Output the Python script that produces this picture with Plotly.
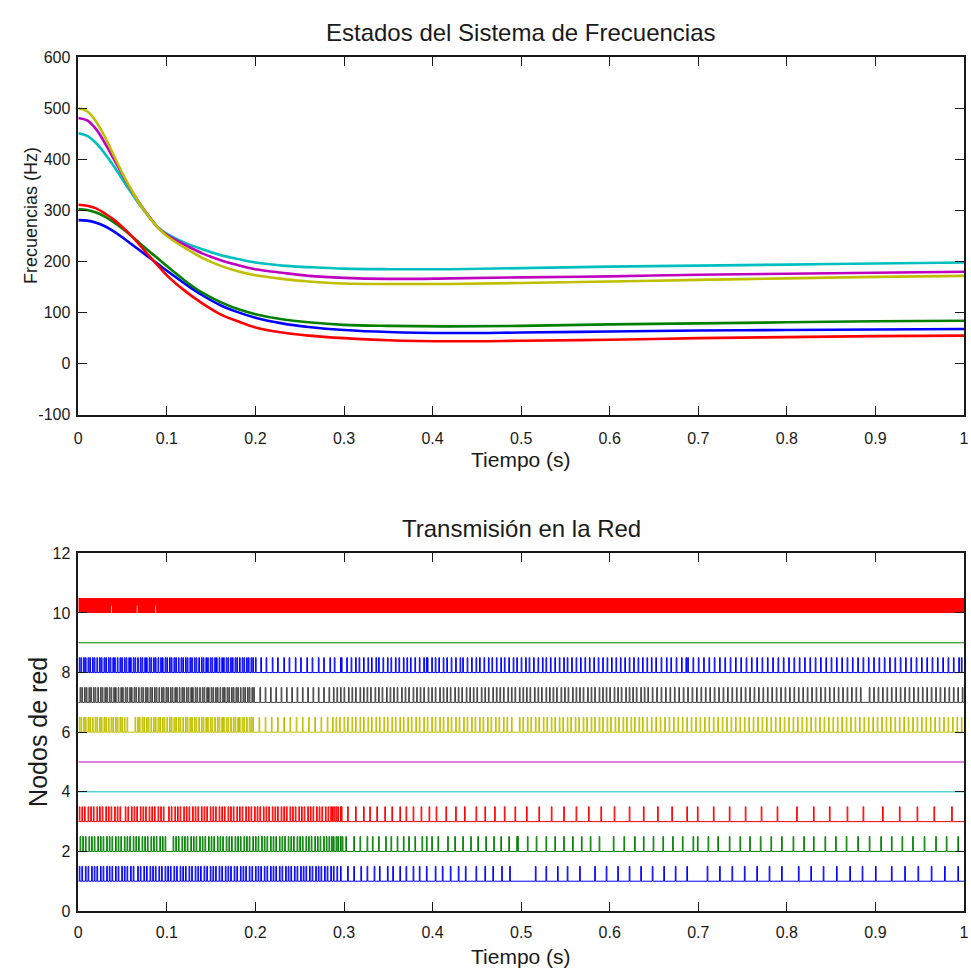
import plotly.graph_objects as go

W, H = 971, 979

# ---------------- Frequency states (top panel) ----------------
t_freq = [0, 0.01, 0.02, 0.03, 0.04, 0.05, 0.06, 0.07, 0.08, 0.09, 0.10, 0.12, 0.14,
          0.16, 0.18, 0.20, 0.23, 0.26, 0.30, 0.35, 0.42, 0.50, 0.60, 0.70, 0.80, 0.90, 1.00]
f_blue    = [281, 280, 276, 269, 259, 247, 234, 221, 208, 195, 182, 157, 134,
             115, 101, 90, 79, 72, 66, 62, 60, 61, 63, 65, 66, 67, 68]
f_green   = [302, 301, 296, 288, 277, 264, 250, 235, 220, 206, 191, 163, 139,
             121, 107, 97, 87, 81, 76, 74, 73, 74, 77, 79, 81, 83, 84]
f_red     = [311, 309, 304, 294, 282, 267, 250, 231, 211, 192, 173, 143, 118,
             97, 83, 71, 61, 55, 50, 46, 44, 45, 47, 50, 52, 54, 55]
f_cyan    = [451, 446, 432, 411, 387, 360, 334, 309, 287, 267, 254, 237, 224,
             213, 205, 198, 192, 189, 186, 185, 185, 187, 190, 192, 194, 196, 198]
f_magenta = [481, 476, 459, 432, 401, 369, 339, 312, 288, 266, 252, 233, 216,
             203, 193, 185, 178, 172, 168, 166, 167, 169, 171, 174, 176, 178, 180]
f_yellow  = [500, 494, 474, 444, 408, 372, 340, 311, 287, 266, 250, 227, 207,
             192, 181, 173, 166, 161, 157, 156, 156, 158, 161, 164, 167, 170, 172]

freq_series = [f_blue, f_green, f_red, f_cyan, f_magenta, f_yellow]
freq_colors = ["#0000FF", "#008000", "#FF0000", "#00BFBF", "#BF00BF", "#BFBF00"]

x_ticks = [0, 0.1, 0.2, 0.3, 0.4, 0.5, 0.6, 0.7, 0.8, 0.9, 1]
x_ticktext = ["0", "0.1", "0.2", "0.3", "0.4", "0.5", "0.6", "0.7", "0.8", "0.9", "1"]
y_top_ticks = [-100, 0, 100, 200, 300, 400, 500, 600]
y_top_ticktext = ["-100", "0", "100", "200", "300", "400", "500", "600"]
y_bot_ticks = [0, 2, 4, 6, 8, 10, 12]

# ---------------- Network transmissions (bottom panel) ----------------
# transmission instants in milliseconds for each node
tx_node1 = [1, 4, 8, 11, 15, 18, 21, 25, 28, 32, 35, 38, 42, 45, 49, 52, 55, 59, 62,
            67, 70, 74, 77, 81, 84, 87, 91, 94, 98, 101, 104, 108, 111, 115, 118, 121,
            125, 128, 132, 135, 138, 142, 145, 149, 152, 155, 159, 162, 166, 169, 172,
            176, 179, 183, 186, 189, 193, 196, 200, 203, 206, 210, 213, 217, 220, 223,
            227, 230, 234, 237, 240, 244, 247, 251, 254, 257, 261, 264, 268, 271, 274,
            278, 281, 285, 288, 292, 296, 304, 311, 319, 326, 334, 340, 349, 355, 363,
            370, 378, 385, 393, 403, 411, 420, 429, 437, 449, 459, 468, 478, 487, 516,
            528, 541, 552, 566, 583, 596, 609, 622, 635, 648, 661, 674, 687, 710, 724,
            738, 752, 766, 780, 794, 813, 827, 841, 856, 871, 885, 900, 918, 933, 948,
            963, 978, 993]
tx_node2 = [2, 5, 8, 12, 15, 18, 22, 25, 28, 32, 35, 38, 42, 45, 48, 52, 55, 58, 62, 65,
            68, 72, 75, 78, 82, 85, 88, 92, 95, 98, 107, 110, 113, 117, 120, 123, 127,
            130, 133, 137, 140, 143, 147, 150, 153, 157, 160, 163, 167, 170, 173, 177,
            180, 183, 187, 190, 193, 197, 200, 203, 207, 210, 213, 217, 220, 223, 227,
            230, 233, 237, 240, 243, 247, 250, 253, 257, 260, 263, 267, 270, 273, 277,
            280, 283, 286, 288, 291, 293, 296, 298, 302, 311, 318, 326, 332, 339, 347,
            353, 360, 367, 373, 380, 388, 393, 399, 406, 417, 425, 434, 443, 451, 460,
            469, 477, 486, 495, 496, 507, 517, 528, 538, 548, 558, 568, 578, 588, 604,
            616, 628, 638, 649, 660, 671, 682, 694, 699, 711, 722, 735, 747, 758, 770,
            782, 794, 807, 819, 830, 843, 855, 867, 880, 893, 906, 918, 930, 942, 955,
            968, 980, 993]
tx_node3 = [1, 4, 7, 11, 14, 17, 21, 24, 27, 31, 34, 37, 41, 44, 47, 53, 56, 60, 63, 66,
            70, 73, 76, 80, 83, 86, 90, 93, 96, 102, 105, 109, 112, 115, 119, 122, 125,
            129, 132, 135, 139, 142, 145, 149, 152, 155, 159, 162, 165, 169, 172, 175,
            179, 182, 185, 189, 192, 195, 199, 202, 205, 209, 212, 215, 219, 222, 225,
            229, 232, 235, 239, 242, 245, 249, 252, 255, 259, 262, 265, 269, 272, 275,
            279, 282, 285, 287, 289, 291, 293, 296, 297, 304, 313, 322, 329, 337, 346,
            354, 363, 370, 378, 387, 396, 404, 415, 426, 436, 449, 459, 470, 481, 493,
            506, 520, 534, 548, 562, 576, 590, 605, 622, 638, 654, 670, 687, 699, 717,
            735, 753, 771, 789, 811, 830, 848, 868, 886, 908, 927, 947, 966, 986]
tx_node4 = []
tx_node5 = []
tx_node6 = [1, 3, 6, 8, 11, 13, 16, 19, 21, 24, 26, 29, 31, 34, 37, 39, 42, 44, 47, 49,
            52, 55, 64, 67, 69, 72, 74, 77, 79, 82, 85, 87, 90, 92, 95, 97, 100, 103, 105,
            108, 110, 113, 115, 118, 121, 123, 126, 128, 131, 133, 136, 139, 141, 144,
            146, 149, 151, 154, 157, 159, 162, 164, 167, 169, 172, 175, 177, 180, 182,
            185, 187, 190, 193, 195, 197, 204, 211, 218, 225, 232, 239, 246, 253, 260,
            267, 274, 281, 287, 291, 295, 300, 304, 309, 313, 318, 322, 327, 331, 336,
            340, 345, 349, 354, 358, 363, 367, 372, 376, 381, 385, 390, 394, 399, 403,
            408, 412, 417, 421, 426, 430, 435, 439, 444, 448, 453, 457, 462, 466, 471,
            475, 480, 484, 489, 498, 502, 507, 511, 516, 520, 525, 529, 534, 538, 543,
            547, 552, 556, 561, 565, 570, 574, 579, 583, 588, 592, 597, 601, 606, 610,
            615, 619, 624, 628, 633, 637, 642, 647, 652, 657, 662, 667, 672, 677, 682,
            687, 692, 697, 702, 707, 712, 717, 722, 727, 732, 737, 742, 747, 752, 757,
            762, 767, 772, 777, 782, 787, 792, 797, 802, 807, 812, 817, 822, 827, 832,
            837, 842, 847, 852, 857, 862, 867, 872, 877, 882, 887, 892, 897, 902, 907,
            912, 917, 922, 927, 932, 937, 942, 947, 952, 957, 962, 967, 972, 977, 982,
            987, 992, 997]
tx_node7 = [2, 4, 7, 9, 12, 14, 17, 19, 22, 25, 27, 30, 32, 35, 37, 40, 42, 45, 48, 50,
            53, 55, 58, 60, 63, 65, 68, 71, 73, 76, 78, 81, 83, 86, 88, 91, 94, 96, 99,
            101, 104, 106, 109, 111, 114, 117, 119, 122, 124, 127, 129, 132, 134, 137,
            140, 142, 145, 147, 150, 152, 155, 157, 160, 163, 165, 168, 170, 173, 175,
            178, 180, 183, 186, 188, 191, 193, 196, 198, 205, 211, 217, 223, 229, 235,
            241, 247, 253, 259, 265, 271, 277, 283, 288, 292, 296, 300, 305, 309, 313,
            318, 322, 326, 330, 335, 339, 343, 348, 352, 356, 360, 365, 369, 373, 378,
            382, 386, 390, 395, 399, 403, 408, 412, 416, 420, 425, 429, 433, 438, 442,
            446, 450, 455, 459, 463, 468, 472, 476, 480, 485, 489, 493, 498, 502, 506,
            510, 515, 519, 523, 528, 532, 536, 540, 545, 549, 553, 558, 562, 566, 570,
            575, 579, 583, 588, 592, 596, 600, 605, 609, 613, 618, 622, 626, 630, 635,
            639, 643, 648, 653, 658, 663, 668, 673, 678, 683, 688, 693, 698, 703, 708,
            713, 718, 723, 728, 733, 738, 743, 748, 753, 758, 763, 768, 773, 778, 783,
            788, 793, 798, 803, 808, 813, 818, 823, 828, 833, 838, 843, 848, 853, 858,
            863, 868, 873, 878, 883, 893, 898, 903, 908, 913, 918, 923, 928, 933, 938,
            943, 948, 953, 958, 963, 968, 973, 978, 983, 988, 993, 998]
tx_node8 = [1, 3, 6, 8, 11, 13, 16, 18, 21, 24, 26, 29, 31, 34, 36, 39, 41, 44, 47, 49,
            52, 54, 57, 59, 62, 64, 67, 70, 72, 75, 77, 80, 82, 85, 87, 90, 93, 95, 98,
            100, 103, 105, 108, 110, 113, 116, 118, 121, 123, 126, 128, 131, 133, 136,
            139, 141, 144, 146, 149, 151, 154, 156, 159, 162, 164, 167, 169, 172, 174,
            177, 179, 182, 185, 187, 190, 192, 195, 197, 200, 206, 212, 219, 225, 232,
            238, 245, 251, 258, 264, 271, 277, 284, 289, 296, 297, 303, 308, 313, 317,
            322, 327, 331, 336, 339, 344, 349, 353, 358, 362, 367, 371, 375, 380, 385,
            390, 393, 394, 399, 403, 407, 412, 416, 421, 426, 431, 434, 439, 444, 449,
            453, 458, 463, 467, 472, 477, 481, 486, 491, 495, 500, 505, 509, 514, 519,
            524, 528, 533, 538, 543, 548, 552, 557, 562, 567, 572, 577, 582, 587, 592,
            597, 602, 607, 612, 617, 622, 627, 632, 637, 642, 647, 652, 658, 664, 669,
            675, 681, 686, 688, 694, 700, 706, 712, 718, 724, 730, 736, 742, 748, 754,
            760, 766, 772, 778, 784, 790, 796, 802, 808, 814, 820, 826, 832, 838, 844,
            850, 856, 862, 868, 874, 880, 886, 892, 898, 904, 910, 916, 922, 928, 934,
            940, 946, 952, 958, 964, 970, 976, 982, 988, 994, 997]
tx_node9 = []
# node 10 transmits at every sample except at these instants (ms)
node10_idle_ms = [37, 66, 87]

node_events = [tx_node1, tx_node2, tx_node3, tx_node4, tx_node5,
               tx_node6, tx_node7, tx_node8, tx_node9]
node_levels = [1, 2, 3, 4, 5, 6, 7, 8, 9]
node_colors = ["#0000FF", "#008000", "#FF0000", "#00BFBF", "#BF00BF",
               "#BFBF00", "#404040", "#0000FF", "#008000"]
node10_level = 10
node10_color = "#FF0000"
PULSE_H = 0.5
PULSE_W = 0.0008


def px_x(p):
    return p / W


def px_y(p):
    return 1 - p / H


def pulse_path(events_ms, level):
    xs, ys = [0.0], [level]
    for e in events_ms:
        t = e / 1000.0
        xs += [t, t, t + PULSE_W, t + PULSE_W]
        ys += [level, level + PULSE_H, level + PULSE_H, level]
    xs.append(1.0)
    ys.append(level)
    return xs, ys


fig = go.Figure()

for vals, col in zip(freq_series, freq_colors):
    fig.add_trace(go.Scatter(
        x=t_freq, y=vals, mode="lines",
        line=dict(color=col, width=2.6, shape="spline", smoothing=1.0),
        xaxis="x", yaxis="y", showlegend=False, hoverinfo="skip"))

for ev, lvl, col in zip(node_events, node_levels, node_colors):
    xs, ys = pulse_path(ev, lvl)
    fig.add_trace(go.Scatter(
        x=xs, y=ys, mode="lines", line=dict(color=col, width=1),
        xaxis="x2", yaxis="y2", showlegend=False, hoverinfo="skip"))

# node 10: saturated transmission band; idle instants leave narrow notches
top = node10_level + PULSE_H
bx, by = [0.0, 1.0, 1.0], [top, top, node10_level]
for g in sorted(node10_idle_ms, reverse=True):
    t0 = g / 1000.0
    t1 = t0 + 0.0008
    bx += [t1, t1, t0, t0]
    by += [node10_level, node10_level + 0.25, node10_level + 0.25, node10_level]
bx += [0.0, 0.0]
by += [node10_level, top]
fig.add_trace(go.Scatter(
    x=bx, y=by, mode="lines", fill="toself", fillcolor=node10_color,
    line=dict(color=node10_color, width=0),
    xaxis="x2", yaxis="y2", showlegend=False, hoverinfo="skip"))

FONT = "Liberation Sans, Arial, sans-serif"
axis_common = dict(
    showline=True, linecolor="#1a1a1a", linewidth=1.5, mirror="ticks",
    ticks="inside", ticklen=9, tickwidth=1, tickcolor="#1a1a1a",
    showgrid=False, zeroline=False, ticklabeloverflow="allow",
    tickfont=dict(family=FONT, size=16, color="#1a1a1a"),
)

dom_x = [px_x(75), px_x(969)]
fig.update_layout(
    width=W, height=H,
    margin=dict(l=0, r=0, t=0, b=0),
    paper_bgcolor="white", plot_bgcolor="white",
    xaxis=dict(domain=dom_x, range=[0, 1], tickvals=x_ticks, ticktext=x_ticktext,
               anchor="y", ticklabelstandoff=8, **axis_common),
    yaxis=dict(domain=[px_y(414), px_y(50)], range=[-100, 600], tickvals=y_top_ticks,
               ticktext=y_top_ticktext, anchor="x", ticklabelstandoff=3, **axis_common),
    xaxis2=dict(domain=dom_x, range=[0, 1], tickvals=x_ticks, ticktext=x_ticktext,
                anchor="y2", ticklabelstandoff=6, **axis_common),
    yaxis2=dict(domain=[px_y(919), px_y(555)], range=[0, 12], tickvals=y_bot_ticks,
                anchor="x2", ticklabelstandoff=3, **axis_common),
)

texts = [
    ("Estados del Sistema de Frecuencias", 522, 25, 24, 0),
    ("Tiempo (s)", 522, 459, 21, 0),
    ("Frecuencias (Hz)", 28, 211, 18, -90),
    ("Transmisión en la Red", 522, 530, 24, 0),
    ("Tiempo (s)", 522, 965, 21, 0),
    ("Nodos de red", 35, 737, 25, -90),
]
for txt, cx, cy, size, ang in texts:
    fig.add_annotation(text=txt, x=px_x(cx), y=px_y(cy), xref="paper", yref="paper",
                       showarrow=False, xanchor="center", yanchor="middle",
                       textangle=ang, font=dict(family=FONT, size=size, color="#1a1a1a"))

fig.write_html(
    "out.html",
    post_script="document.body.style.margin='0';document.body.style.overflow='hidden';",
)
